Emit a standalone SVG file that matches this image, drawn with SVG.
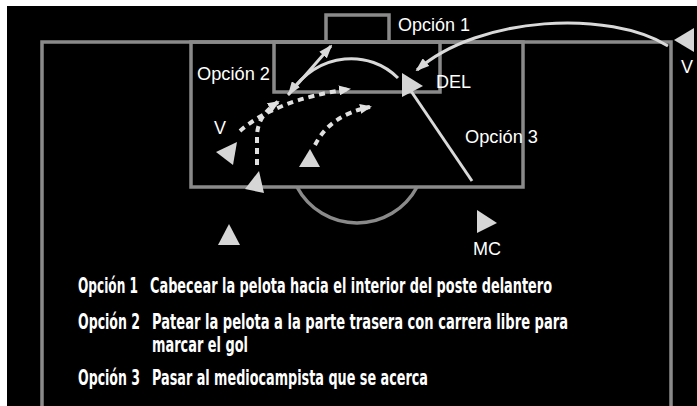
<svg xmlns="http://www.w3.org/2000/svg" width="697" height="406" viewBox="0 0 697 406">
<defs>
<style>
.field{fill:none;stroke:#8a8a8a;stroke-width:3.5}
.solid{fill:none;stroke:#d9d9d9;stroke-width:3}
.dot{fill:none;stroke:#e0e0e0;stroke-width:4;stroke-dasharray:6 5}
.pl{fill:#d6d6d6}
.lbl{font-family:"Liberation Sans",Arial,sans-serif;font-size:18px;fill:#ffffff}
.leg{font-family:"DejaVu Sans Condensed","Liberation Sans Narrow","Liberation Sans",sans-serif;font-weight:bold;font-size:22px;fill:#ffffff}
</style>
<marker id="ah" viewBox="0 0 14 10" refX="12" refY="5" markerWidth="14" markerHeight="10" markerUnits="userSpaceOnUse" orient="auto">
<path d="M0,0 L14,5 L0,10 Z" fill="#d9d9d9"/>
</marker>
<marker id="ahd" viewBox="0 0 12 10" refX="10" refY="5" markerWidth="12" markerHeight="10" markerUnits="userSpaceOnUse" orient="auto">
<path d="M0,0 L12,5 L0,10 Z" fill="#e0e0e0"/>
</marker>
</defs>
<rect x="0" y="0" width="697" height="406" fill="#ffffff"/>
<rect x="7" y="6" width="690" height="400" fill="#000000"/>
<g id="field">
<path class="field" d="M42,406 L42,42 L671,42 L671,406"/>
<rect class="field" x="191" y="42" width="332" height="145"/>
<rect class="field" x="274" y="42" width="166" height="50"/>
<rect class="field" x="326" y="15" width="63" height="27"/>
<path class="field" d="M297,187 A68,68 0 0 0 417,187"/>
</g>
<g id="connectors">
<path class="solid" d="M668,46 C610,10 480,15 417,70" marker-end="url(#ah)"/>
<path class="solid" d="M398,78 C370,50 320,50 289,94" marker-end="url(#ah)"/>
<path class="solid" d="M288,95 L331,46" marker-end="url(#ah)"/>
<path class="solid" d="M472,181 L411,91"/>
<path class="dot" d="M240,131 Q275,100 349,89" marker-end="url(#ahd)"/>
<path class="dot" d="M257,165 L257,135 Q258,115 278,102" marker-end="url(#ahd)"/>
<path class="dot" d="M315,145 Q330,115 370,107" marker-end="url(#ahd)"/>
</g>
<g id="player-v-right"><path class="pl" d="M674,40 L694,28 L694,52 Z"/><text class="lbl" x="681" y="73">V</text></g>
<g id="player-del"><path class="pl" d="M402,73 L423,86 L402,97 Z"/><text class="lbl" x="436" y="88">DEL</text></g>
<g id="player-v-left"><path class="pl" d="M216,152 L237,142 L233,165 Z"/><text class="lbl" x="214" y="134">V</text></g>
<g id="player-mid"><path class="pl" d="M310,149 L320,167 L299,167 Z"/></g>
<g id="player-box"><path class="pl" d="M259,171 L264,193 L245,189 Z"/></g>
<g id="player-low"><path class="pl" d="M229,224 L240,245 L218,245 Z"/></g>
<g id="player-mc"><path class="pl" d="M477,210 L497,223 L477,233 Z"/><text class="lbl" x="473" y="255">MC</text></g>
<g id="labels">
<text class="lbl" x="398" y="31" textLength="72" lengthAdjust="spacingAndGlyphs">Opción 1</text>
<text class="lbl" x="197" y="80" textLength="73" lengthAdjust="spacingAndGlyphs">Opción 2</text>
<text class="lbl" x="465" y="143" textLength="73" lengthAdjust="spacingAndGlyphs">Opción 3</text>
</g>
<g id="legend">
<text class="leg" y="293"><tspan x="78" textLength="60" lengthAdjust="spacingAndGlyphs">Opción 1</tspan><tspan x="150" textLength="402" lengthAdjust="spacingAndGlyphs">Cabecear la pelota hacia el interior del poste delantero</tspan></text>
<text class="leg" y="329"><tspan x="78" textLength="62" lengthAdjust="spacingAndGlyphs">Opción 2</tspan><tspan x="152" textLength="416" lengthAdjust="spacingAndGlyphs">Patear la pelota a la parte trasera con carrera libre para</tspan></text>
<text class="leg" x="152" y="352" textLength="96" lengthAdjust="spacingAndGlyphs">marcar el gol</text>
<text class="leg" y="385"><tspan x="78" textLength="62" lengthAdjust="spacingAndGlyphs">Opción 3</tspan><tspan x="152" textLength="276" lengthAdjust="spacingAndGlyphs">Pasar al mediocampista que se acerca</tspan></text>
</g>
</svg>
